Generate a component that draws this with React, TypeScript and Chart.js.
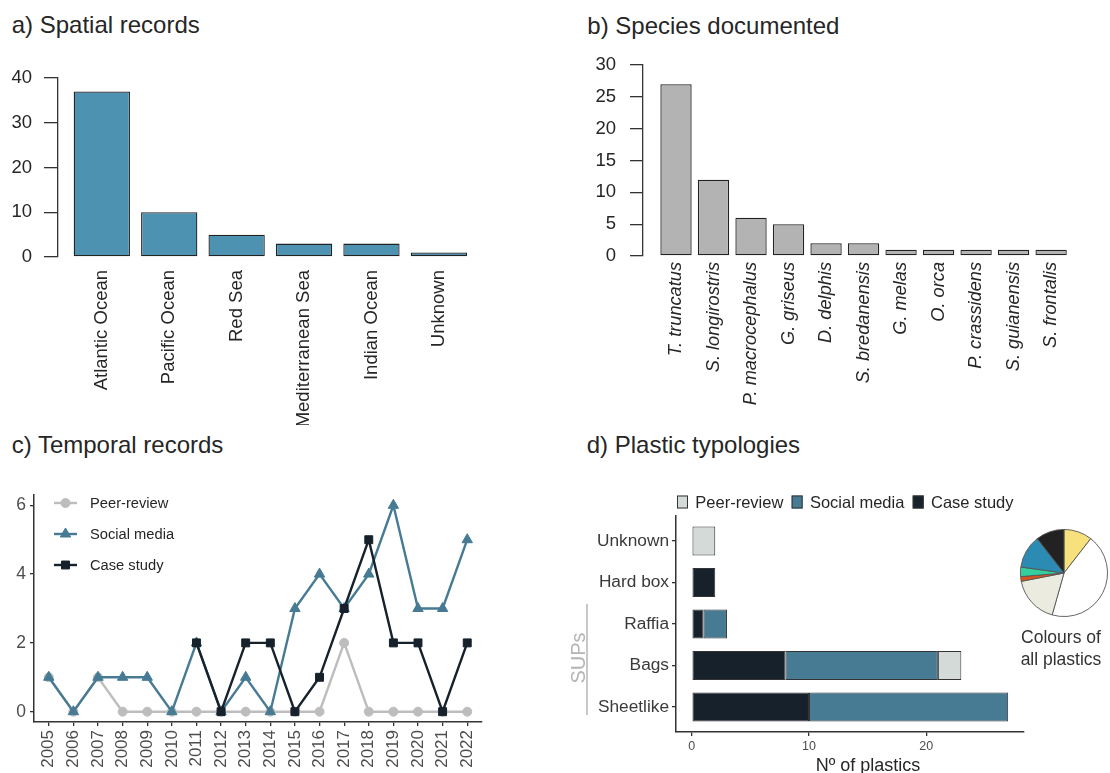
import React, { useEffect, useRef } from 'react';
import { Chart, registerables } from 'chart.js';
import { drawPoint } from 'chart.js/helpers';

Chart.register(...registerables);

const FONT = "'Liberation Sans', Arial, Helvetica, sans-serif";
Chart.defaults.font.family = FONT;

// a) Spatial records
const regions = ['Atlantic Ocean', 'Pacific Ocean', 'Red Sea', 'Mediterranean Sea', 'Indian Ocean', 'Unknown'];
const regionCounts = [37, 10, 5, 3, 3, 1];

// b) Species documented
const species = [
  'T. truncatus', 'S. longirostris', 'P. macrocephalus', 'G. griseus', 'D. delphis',
  'S. bredanensis', 'G. melas', 'O. orca', 'P. crassidens', 'S. guianensis', 'S. frontalis',
];
const speciesCounts = [27, 12, 6, 5, 2, 2, 1, 1, 1, 1, 1];

// c) Temporal records
const years = [2005, 2006, 2007, 2008, 2009, 2010, 2011, 2012, 2013, 2014, 2015, 2016, 2017, 2018, 2019, 2020, 2021, 2022];
const peerReviewByYear = [1, 0, 1, 0, 0, 0, 0, 0, 0, 0, 0, 0, 2, 0, 0, 0, 0, 0];
const socialMediaByYear = [1, 0, 1, 1, 1, 0, 2, 0, 1, 0, 3, 4, 3, 4, 6, 3, 3, 5];
const caseStudyByYear = [null, null, null, null, null, null, 2, 0, 2, 2, 0, 1, 3, 5, 2, 2, 0, 2];
const temporalTicks = [0, 2, 4, 6];

// d) Plastic typologies (stacked: case study, social media, peer-review)
const typologies = ['Unknown', 'Hard box', 'Raffia', 'Bags', 'Sheetlike'];
const caseStudyPlastics = [null, 2, 1, 8, 10];
const socialMediaPlastics = [null, null, 2, 13, 17];
const peerReviewPlastics = [2, null, null, 2, null];
const plasticTicks = [0, 10, 20];

// Colours of all plastics
const plasticColourNames = ['Yellow', 'White', 'Beige', 'Orange', 'Green', 'Blue', 'Black'];
const plasticColourCounts = [6, 25, 10, 1, 2, 7, 6];
const plasticColourFills = ['#f7e17c', '#ffffff', '#ecebe0', '#d9531e', '#33cf9f', '#2c8bb3', '#222222'];

const PEER = '#bdbdbd';
const SOCIAL = '#467b93';
const CASE = '#16212c';

const fixWidth = (w: number) => (s: any) => { s.width = w; };
const fixHeight = (h: number) => (s: any) => { s.height = h; };
const setTicks = (vals: number[]) => (s: any) => { s.ticks = vals.map((v) => ({ value: v })); };
const indexList = (arr: any[]) => arr.map((_, i) => i);

const baseOptions = {
  responsive: false,
  animation: false as const,
  devicePixelRatio: 1,
  events: [] as any[],
};

function barConfig(labels: string[], values: number[], opts: any) {
  return {
    type: 'bar',
    data: {
      datasets: [{
        data: values.map((v, i) => ({ x: i, y: v })),
        backgroundColor: opts.fill,
        borderColor: '#222222',
        borderWidth: 1.3,
        borderSkipped: false,
        barPercentage: 0.835,
        categoryPercentage: 1,
      }],
    },
    options: {
      ...baseOptions,
      layout: { padding: { top: opts.padTop, right: opts.padRight, left: 0, bottom: 0 } },
      plugins: { legend: { display: false }, tooltip: { enabled: false } },
      scales: {
        x: {
          type: 'linear',
          offset: false,
          min: opts.xMin,
          max: opts.xMax,
          afterBuildTicks: setTicks(indexList(labels)),
          afterFit: fixHeight(opts.xHeight),
          grid: { display: false, drawTicks: false, offset: false },
          border: { display: false },
          ticks: {
            autoSkip: false, maxRotation: 90, minRotation: 90, padding: opts.labelGap,
            color: '#262626', font: { size: opts.labelSize, style: opts.italic ? 'italic' : 'normal' },
            callback: (v: number) => labels[v],
          },
        },
        y: {
          min: 0,
          max: opts.yMax,
          afterFit: fixWidth(opts.yWidth),
          ticks: { stepSize: opts.yStep, padding: opts.yPad, color: '#262626', font: { size: opts.yFont } },
          grid: { drawOnChartArea: false, tickLength: opts.yTick, color: '#333333', lineWidth: 1.3 },
          border: { display: true, color: '#333333', width: 1.3 },
        },
      },
    },
  };
}

const lineLegend = {
  id: 'lineLegend',
  afterDraw(chart: any) {
    const { ctx } = chart;
    ctx.save();
    ctx.font = `14.7px ${FONT}`;
    ctx.textBaseline = 'middle';
    chart.data.datasets.forEach((ds: any, i: number) => {
      const y = 33 + i * 31;
      ctx.strokeStyle = ds.borderColor;
      ctx.fillStyle = ds.borderColor;
      ctx.lineWidth = ds.borderWidth;
      ctx.beginPath();
      ctx.moveTo(54, y);
      ctx.lineTo(77, y);
      ctx.stroke();
      ctx.lineWidth = 1;
      drawPoint(ctx, { pointStyle: ds.pointStyle, radius: ds.pointRadius, rotation: 0, borderWidth: 1 }, 65.5, y);
      ctx.fillStyle = '#262626';
      ctx.fillText(ds.label, 90, y + 1);
    });
    ctx.restore();
  },
};

const stackLegend = {
  id: 'stackLegend',
  afterDraw(chart: any) {
    const { ctx } = chart;
    ctx.save();
    ctx.font = `16.5px ${FONT}`;
    ctx.textBaseline = 'middle';
    let x = 117;
    const y = 32;
    [...chart.data.datasets].reverse().forEach((ds: any) => {
      ctx.fillStyle = ds.backgroundColor;
      ctx.fillRect(x, y - 6.5, 11, 13);
      ctx.strokeStyle = '#333333';
      ctx.lineWidth = 1;
      ctx.strokeRect(x + 0.5, y - 6, 10, 12);
      ctx.fillStyle = '#262626';
      ctx.fillText(ds.label, x + 18.3, y + 1);
      x += 18.3 + ctx.measureText(ds.label).width + 8.3;
    });
    ctx.font = `18px ${FONT}`;
    ctx.textAlign = 'center';
    ctx.textBaseline = 'alphabetic';
    ctx.fillStyle = '#262626';
    ctx.fillText('Nº of plastics', 308, 301);
    ctx.restore();
  },
};

function lineDataset(label: string, values: (number | null)[], color: string, style: string, radius: number, order: number) {
  return {
    label,
    data: values.map((v, i) => ({ x: years[i], y: v })),
    borderColor: color,
    backgroundColor: color,
    pointBackgroundColor: color,
    pointBorderColor: color,
    pointStyle: style,
    pointRadius: radius,
    pointBorderWidth: 1,
    borderWidth: 2.4,
    tension: 0,
    order,
  };
}

const temporalConfig = () => ({
  type: 'line',
  data: {
    datasets: [
      lineDataset('Peer-review', peerReviewByYear, PEER, 'circle', 4.5, 2),
      lineDataset('Social media', socialMediaByYear, SOCIAL, 'triangle', 6, 1),
      lineDataset('Case study', caseStudyByYear, CASE, 'rect', 5.6, 0),
    ],
  },
  options: {
    ...baseOptions,
    layout: { padding: { top: 25, right: 18, left: 0, bottom: 0 } },
    plugins: { legend: { display: false }, tooltip: { enabled: false } },
    scales: {
      x: {
        type: 'linear', min: 2004.4, max: 2022.6, offset: false,
        afterBuildTicks: setTicks(years),
        afterFit: fixHeight(51),
        ticks: {
          autoSkip: false, maxRotation: 90, minRotation: 90, padding: 4,
          color: '#4d4d4d', font: { size: 17 }, callback: (v: number) => String(v),
        },
        grid: { drawOnChartArea: false, tickLength: 4, color: '#333333', lineWidth: 1.3 },
        border: { display: true, color: '#333333', width: 1.5 },
      },
      y: {
        min: -0.3, max: 6.3,
        afterBuildTicks: setTicks(temporalTicks),
        afterFit: fixWidth(34),
        ticks: { padding: 4, color: '#4d4d4d', font: { size: 17.5 } },
        grid: { drawOnChartArea: false, tickLength: 4, color: '#333333', lineWidth: 1.3 },
        border: { display: true, color: '#333333', width: 1.5 },
      },
    },
  },
  plugins: [lineLegend],
});

function stackDataset(label: string, values: (number | null)[], color: string) {
  return {
    label,
    data: values.map((v, i) => ({ x: v, y: i })),
    backgroundColor: color,
    borderColor: '#333333',
    borderWidth: 1,
    borderSkipped: false,
    barPercentage: 0.7,
    categoryPercentage: 1,
  };
}

const typologyConfig = () => ({
  type: 'bar',
  data: {
    datasets: [
      stackDataset('Case study', caseStudyPlastics, CASE),
      stackDataset('Social media', socialMediaPlastics, SOCIAL),
      stackDataset('Peer-review', peerReviewPlastics, '#d3dad8'),
    ],
  },
  options: {
    ...baseOptions,
    indexAxis: 'y',
    layout: { padding: { top: 46, right: 16, left: 0, bottom: 0 } },
    plugins: { legend: { display: false }, tooltip: { enabled: false } },
    scales: {
      x: {
        type: 'linear', stacked: true, min: -1.35, max: 28.35,
        afterBuildTicks: setTicks(plasticTicks),
        afterFit: fixHeight(41),
        ticks: { padding: 3, color: '#4d4d4d', font: { size: 12.5 } },
        grid: { drawOnChartArea: false, tickLength: 4, color: '#333333', lineWidth: 1.3 },
        border: { display: true, color: '#333333', width: 1.5 },
      },
      y: {
        type: 'linear', stacked: true, reverse: true, min: -0.6, max: 4.6, offset: false,
        afterBuildTicks: setTicks(indexList(typologies)),
        afterFit: fixWidth(116),
        ticks: { padding: 3, color: '#3a3a3a', font: { size: 17.3 }, callback: (v: number) => typologies[v] },
        grid: { drawOnChartArea: false, tickLength: 4, color: '#333333', lineWidth: 1.3, offset: false },
        border: { display: true, color: '#333333', width: 1.5 },
      },
    },
  },
  plugins: [stackLegend],
});

const pieConfig = () => ({
  type: 'pie',
  data: {
    labels: plasticColourNames,
    datasets: [{
      data: plasticColourCounts,
      backgroundColor: plasticColourFills,
      borderColor: '#555555',
      borderWidth: 0.9,
    }],
  },
  options: {
    ...baseOptions,
    layout: { padding: 5 },
    plugins: { legend: { display: false }, tooltip: { enabled: false } },
  },
});

function ChartCanvas(props: { left: number; top: number; width: number; height: number; make: () => any }) {
  const ref = useRef<HTMLCanvasElement>(null);
  useEffect(() => {
    const chart = new Chart(ref.current as HTMLCanvasElement, props.make());
    return () => chart.destroy();
  }, []);
  const { left, top, width, height } = props;
  return (
    <canvas
      ref={ref}
      width={width}
      height={height}
      style={{ position: 'absolute', left, top, width, height, display: 'block' }}
    />
  );
}

const titleStyle = (left: number, top: number): React.CSSProperties => ({
  position: 'absolute', left, top, fontSize: 24, lineHeight: '24px', color: '#262626', whiteSpace: 'nowrap',
});

export default function App() {
  return (
    <div style={{ position: 'absolute', left: 0, top: 0, width: 1110, height: 773, overflow: 'hidden', background: '#ffffff', fontFamily: FONT }}>
      <div style={titleStyle(11.7, 13.2)}>a) Spatial records</div>
      <div style={titleStyle(587.3, 13.8)}>b) Species documented</div>
      <div style={titleStyle(11.7, 432.7)}>c) Temporal records</div>
      <div style={titleStyle(586.7, 432.7)}>d) Plastic typologies</div>

      <ChartCanvas left={0} top={50} width={500} height={375} make={() => barConfig(regions, regionCounts, {
        fill: '#4e92b2', padTop: 28, padRight: 20, xMin: -0.65, xMax: 5.61, xHeight: 168, labelGap: 13,
        labelSize: 18.5, italic: false, yMax: 40, yStep: 10, yWidth: 58, yPad: 12, yFont: 18.5, yTick: 14,
      })} />
      <ChartCanvas left={560} top={40} width={540} height={380} make={() => barConfig(species, speciesCounts, {
        fill: '#b3b3b3', padTop: 23, padRight: 17, xMin: -0.88, xMax: 10.85, xHeight: 164, labelGap: 6,
        labelSize: 18.2, italic: true, yMax: 30, yStep: 5, yWidth: 83, yPad: 14, yFont: 18.5, yTick: 13,
      })} />
      <ChartCanvas left={0} top={470} width={500} height={303} make={temporalConfig} />
      <ChartCanvas left={560} top={470} width={480} height={303} make={typologyConfig} />
      <ChartCanvas left={1015} top={524} width={98} height={98} make={pieConfig} />

      {/* SUPs grouping bracket */}
      <div style={{ position: 'absolute', left: 586, top: 604, width: 2, height: 111, background: '#c8c8c8' }} />
      <div style={{
        position: 'absolute', left: 548, top: 646, width: 60, height: 24, fontSize: 20, lineHeight: '24px',
        textAlign: 'center', color: '#b4b4b4', transform: 'rotate(-90deg)', whiteSpace: 'nowrap',
      }}>SUPs</div>

      <div style={{
        position: 'absolute', left: 1011, top: 626, width: 100, textAlign: 'center', fontSize: 17.5,
        lineHeight: '22.4px', color: '#333333',
      }}>Colours of<br />all plastics</div>
    </div>
  );
}
